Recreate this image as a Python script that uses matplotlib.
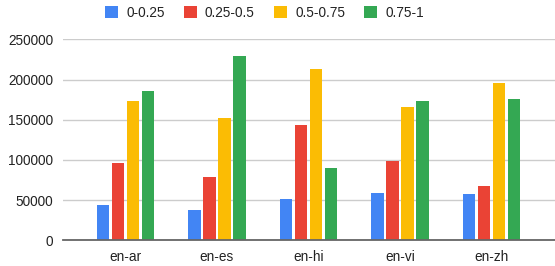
import matplotlib.pyplot as plt
import numpy as np

pairs = ['en-ar', 'en-es', 'en-hi', 'en-vi', 'en-zh']
bins = ['0-0.25', '0.25-0.5', '0.5-0.75', '0.75-1']
v_0_025 = [43600, 37900, 51800, 59300, 57600]
v_025_05 = [95900, 79000, 143600, 98800, 67900]
v_05_075 = [173300, 151900, 212800, 166300, 195900]
v_075_1 = [186000, 229600, 90100, 173300, 176100]
colors = ['#4285F4', '#EA4335', '#FBBC04', '#34A853']

plt.rcParams['font.family'] = ['Liberation Sans', 'DejaVu Sans']

fig = plt.figure(figsize=(5.55, 2.66), dpi=100)
ax = fig.add_axes([63 / 555, 25.7 / 266, 492 / 555, 201 / 266])

x = np.arange(len(pairs))
w = 0.137
step = 0.164
series = [v_0_025, v_025_05, v_05_075, v_075_1]
handles = []
for i, vals in enumerate(series):
    off = (i - 1.5) * step
    b = ax.bar(x + off, vals, width=w, color=colors[i], label=bins[i], zorder=3)
    handles.append(b)

ax.set_xlim(-0.683, 4.694)
ax.set_ylim(0, 250000)
ax.set_yticks([0, 50000, 100000, 150000, 200000, 250000])
ax.set_yticklabels(['0', '50000', '100000', '150000', '200000', '250000'])
ax.set_xticks(x)
ax.set_xticklabels(pairs)
ax.tick_params(axis='both', length=0, labelsize=9.8, labelcolor='#222222')
ax.tick_params(axis='y', pad=7)
ax.tick_params(axis='x', pad=7)
ax.yaxis.grid(True, color='#cccccc', linewidth=1, zorder=0)
ax.set_axisbelow(True)
for s in ['top', 'right', 'left']:
    ax.spines[s].set_visible(False)
ax.spines['bottom'].set_color('#666666')
ax.spines['bottom'].set_linewidth(1.3)
ax.spines['bottom'].set_zorder(4)

fig.legend(handles=handles, labels=bins, loc='center', ncol=4,
           bbox_to_anchor=(0.4766, 0.951), frameon=False, fontsize=9.8,
           handlelength=0.95, handleheight=0.95, handletextpad=0.6,
           columnspacing=1.4, labelcolor='#222222')

fig.savefig('out.png', dpi=100)
